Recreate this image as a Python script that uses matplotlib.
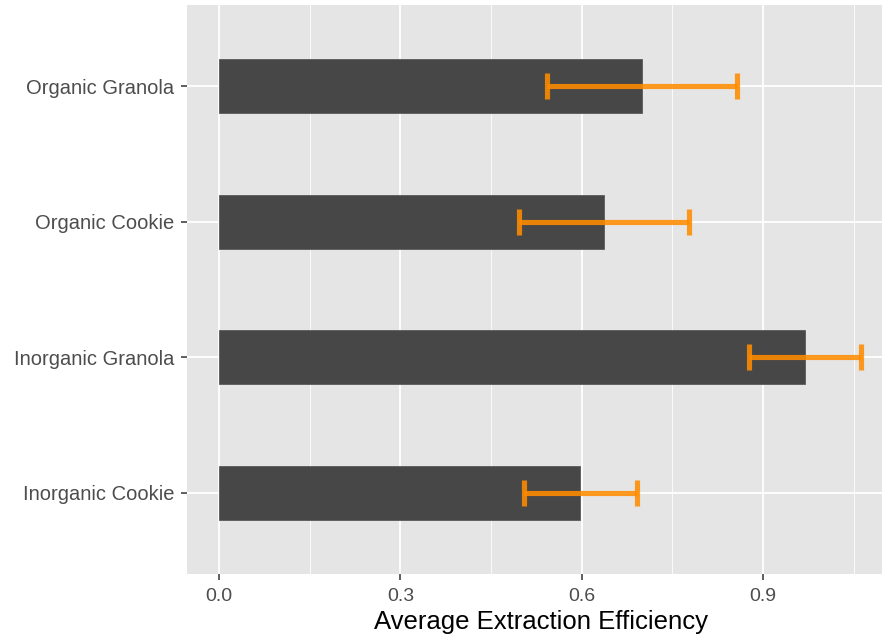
import matplotlib
matplotlib.use("Agg")
import matplotlib.pyplot as plt
from matplotlib.ticker import MultipleLocator

categories = ["Inorganic Cookie", "Inorganic Granola", "Organic Cookie", "Organic Granola"]
means = [0.598, 0.970, 0.637, 0.700]
errors = [0.093, 0.093, 0.141, 0.157]
xticks = [0.0, 0.3, 0.6, 0.9]
xticklabels = ["0.0", "0.3", "0.6", "0.9"]

plt.rcParams['font.family'] = ['Liberation Sans', 'DejaVu Sans']

fig = plt.figure(figsize=(8.82, 6.4), dpi=100)
ax = fig.add_axes([187/882, 1-574/640, (894-187)/882, (574-5)/640])
ax.set_facecolor('#E5E5E5')

ypos = list(range(1, len(categories)+1))
ax.barh(ypos, means, height=0.4, color='#474747', edgecolor='#5a5a5a', linewidth=0.6, zorder=3)
ax.errorbar(means, ypos, xerr=errors, fmt='none', ecolor='#FF8C00', alpha=0.88,
            elinewidth=3.7, capsize=9.7, capthick=3.7, zorder=4)

ax.set_xlim(-0.0532, 1.117)
ax.set_ylim(0.4, 4.6)
ax.xaxis.set_minor_locator(MultipleLocator(0.15))
ax.set_xticks(xticks)
ax.set_xticklabels(xticklabels)
ax.set_yticks(ypos)
ax.set_yticklabels(categories)

ax.grid(which='major', color='white', linewidth=1.3, zorder=0)
ax.grid(which='minor', axis='x', color='white', linewidth=0.6, zorder=0)
ax.set_axisbelow(True)
for s in ax.spines.values():
    s.set_visible(False)
ax.tick_params(which='major', length=4, width=1.1, color='#333333', labelcolor='#4D4D4D')
ax.tick_params(axis='x', pad=6, labelsize=14)
ax.tick_params(axis='y', pad=5, labelsize=14.5)
ax.tick_params(which='minor', length=0)
ax.set_xlabel("Average Extraction Efficiency", fontsize=18.5, color='black', labelpad=4)

fig.savefig("out.png", dpi=100)
